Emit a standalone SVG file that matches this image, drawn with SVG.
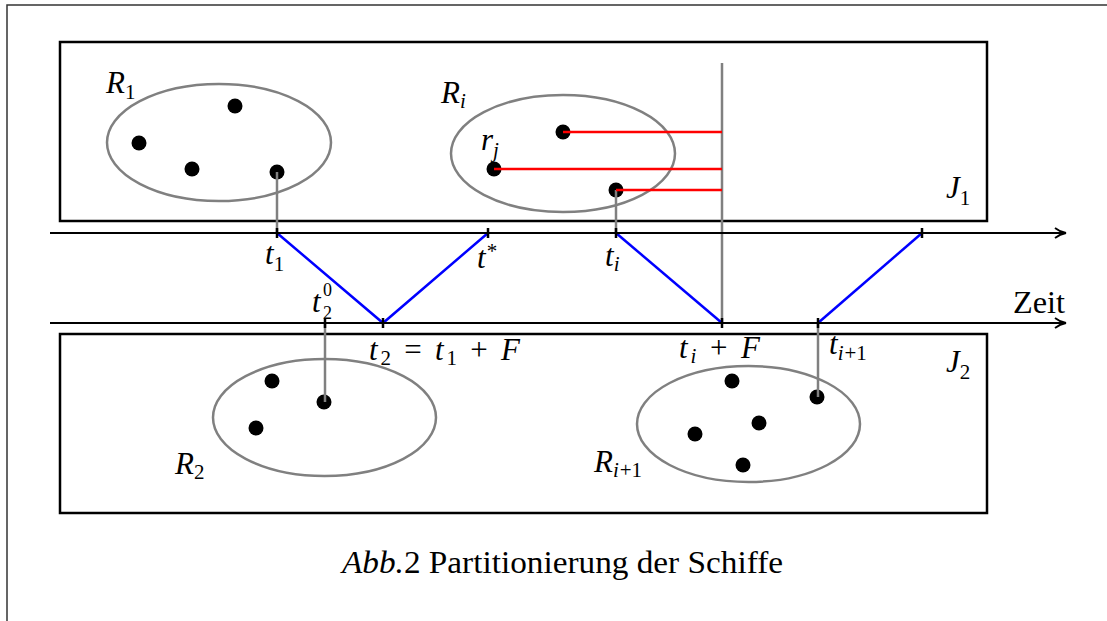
<svg xmlns="http://www.w3.org/2000/svg" width="1107" height="621" viewBox="0 0 1107 621">
<style>
text{font-family:"Liberation Serif","DejaVu Serif",serif;fill:#000;font-size:31px}
.it{font-style:italic}
.sub{font-size:21px;font-style:normal}
.subi{font-size:21px;font-style:italic}
.ss{font-size:18px;font-style:normal}
.box{fill:none;stroke:#000;stroke-width:2.5}
.ell{fill:none;stroke:#808080;stroke-width:2.5}
.dot{fill:#000}
.gray{stroke:#808080;stroke-width:2.5;fill:none}
.red{stroke:#ff0000;stroke-width:2.5}
.blue{stroke:#0000ff;stroke-width:2.5}
.axis{stroke:#000;stroke-width:2;fill:none}
.tick{stroke:#000;stroke-width:2.5}
</style>
<defs>
<marker id="arr" markerWidth="14" markerHeight="12" refX="11" refY="6" orient="auto" markerUnits="userSpaceOnUse">
<path d="M1,1 Q6,5 12,6 Q6,7 1,11" fill="none" stroke="#000" stroke-width="1.8"/>
</marker>
</defs>
<rect width="1107" height="621" fill="#fff"/>
<path d="M7,621 V5 H1107" fill="none" stroke="#333" stroke-width="1.5"/>

<g id="J1">
<rect class="box" x="60" y="42" width="927" height="179"/>
<text x="946" y="198" class="it">J<tspan class="sub" dy="7">1</tspan></text>
</g>
<g id="J2">
<rect class="box" x="60" y="334" width="927" height="179"/>
<text x="946" y="372" class="it">J<tspan class="sub" dy="7">2</tspan></text>
</g>

<g id="R1">
<ellipse class="ell" cx="219" cy="142.5" rx="112" ry="58.5"/>
<circle class="dot" cx="235" cy="106" r="7.5"/>
<circle class="dot" cx="139" cy="143" r="7.5"/>
<circle class="dot" cx="192" cy="169" r="7.5"/>
<circle class="dot" cx="277" cy="172" r="7.5"/>
<text x="106" y="93" class="it">R<tspan class="sub" dy="6">1</tspan></text>
</g>
<g id="Ri">
<ellipse class="ell" cx="563" cy="153.5" rx="112" ry="58.5"/>
<circle class="dot" cx="563" cy="132" r="7.5"/>
<circle class="dot" cx="494" cy="169" r="7.5"/>
<circle class="dot" cx="616" cy="190" r="7.5"/>
<text x="441" y="103" class="it">R<tspan class="subi" dy="5">i</tspan></text>
<text x="481" y="150" class="it">r<tspan class="subi" dy="7">j</tspan></text>
</g>
<g id="R2">
<ellipse class="ell" cx="324.5" cy="417.5" rx="111.5" ry="58.5"/>
<circle class="dot" cx="272" cy="381" r="7.5"/>
<circle class="dot" cx="324" cy="402" r="7.5"/>
<circle class="dot" cx="256" cy="428" r="7.5"/>
<text x="175" y="474" class="it">R<tspan class="sub" dy="5">2</tspan></text>
</g>
<g id="Ri1">
<ellipse class="ell" cx="748.5" cy="424" rx="111.5" ry="58"/>
<circle class="dot" cx="732" cy="381" r="7.5"/>
<circle class="dot" cx="817" cy="397" r="7.5"/>
<circle class="dot" cx="759" cy="423" r="7.5"/>
<circle class="dot" cx="695" cy="434" r="7.5"/>
<circle class="dot" cx="743" cy="465" r="7.5"/>
<text x="594" y="472" class="it">R<tspan class="subi" dy="5">i</tspan><tspan class="sub" dx="1">+1</tspan></text>
</g>

<g id="connectors">
<line class="gray" x1="722" y1="63" x2="722" y2="323"/>
<line class="gray" x1="277" y1="172" x2="277" y2="233"/>
<line class="gray" x1="616" y1="190" x2="616" y2="233"/>
<line class="gray" x1="325" y1="323" x2="325" y2="402"/>
<line class="gray" x1="818" y1="323" x2="818" y2="397"/>
<line class="red" x1="563" y1="132" x2="722" y2="132"/>
<line class="red" x1="494" y1="169" x2="722" y2="169"/>
<line class="red" x1="616" y1="190" x2="722" y2="190"/>
<polyline class="blue" fill="none" points="277,233 383,323 488,233"/>
<line class="blue" x1="616" y1="233" x2="722" y2="323"/>
<line class="blue" x1="818" y1="323" x2="922" y2="233"/>
<line class="axis" x1="50" y1="233" x2="1065" y2="233" marker-end="url(#arr)"/>
<line class="axis" x1="50" y1="323" x2="1065" y2="323" marker-end="url(#arr)"/>
<g class="tick">
<line x1="277" y1="228" x2="277" y2="238"/>
<line x1="488" y1="228" x2="488" y2="238"/>
<line x1="616" y1="228" x2="616" y2="238"/>
<line x1="922" y1="228" x2="922" y2="238"/>
<line x1="325" y1="318" x2="325" y2="328"/>
<line x1="383" y1="318" x2="383" y2="328"/>
<line x1="722" y1="318" x2="722" y2="328"/>
<line x1="818" y1="318" x2="818" y2="328"/>
</g>
</g>

<g id="labels">
<text x="265" y="264" class="it">t<tspan class="sub" dy="7">1</tspan></text>
<text x="477" y="268" class="it">t<tspan class="sub" dx="1" dy="-10">*</tspan></text>
<text x="605" y="266" class="it">t<tspan class="subi" dy="5">i</tspan></text>
<text x="312" y="312" class="it">t</text>
<text x="323" y="319" class="ss">2</text>
<text x="323" y="296" class="ss">0</text>
<text x="369" y="360" class="it" textLength="151" lengthAdjust="spacing">t<tspan class="sub" dy="5">2</tspan><tspan dy="-5" font-style="normal"> = </tspan>t<tspan class="sub" dy="5">1</tspan><tspan dy="-5" font-style="normal"> + </tspan>F</text>
<text x="679" y="358" class="it" textLength="81" lengthAdjust="spacing">t<tspan class="subi" dy="5">i</tspan><tspan dy="-5" font-style="normal"> + </tspan>F</text>
<text x="829" y="354" class="it">t<tspan class="subi" dy="6">i</tspan><tspan class="sub" dx="1">+1</tspan></text>
<text x="1013" y="313" textLength="52" lengthAdjust="spacingAndGlyphs">Zeit</text>
<text x="342" y="573" textLength="441" lengthAdjust="spacingAndGlyphs"><tspan class="it">Abb.</tspan>2 Partitionierung der Schiffe</text>
</g>
</svg>
